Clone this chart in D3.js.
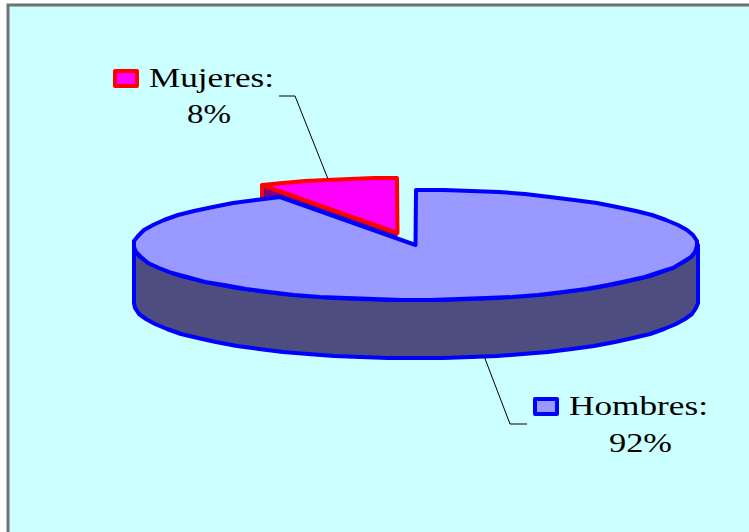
<!DOCTYPE html>
<html lang="en">
<head>
<meta charset="UTF-8">
<title>Hombres y Mujeres</title>
<script src="https://d3js.org/d3.v7.min.js"></script>
<style>
    html, body { margin: 0; padding: 0; background: #fff; }
    svg { display: block; }
    text { font-family: "Liberation Serif", serif; font-size: 28px; fill: #000; }
</style>
</head>
<body>
<svg width="749" height="532"></svg>
<script>
const categories = ["Hombres", "Mujeres"];
const values = [92, 8];
const pctLabels = ["92%", "8%"];
const fills = ["#9999ff", "#ff00ff"];
const sides = ["#4d4d80", "#800080"];
const strokes = ["#0000ff", "#ff0000"];

const svg = d3.select("svg");
svg.append("rect").attr("x", 8).attr("y", 5).attr("width", 760).attr("height", 540)
    .attr("fill", "#ccffff").attr("stroke", "#707070").attr("stroke-width", 3);

const cx = 415.5, cy = 245, rx = 282, ry = 55, depth = 58;
const explode = [[0, 0], [-18, -12]];

// no sort, so Hombres starts at 12 o'clock and runs clockwise
const arcs = d3.pie().sort(null)(values);

// rounded to whole pixels, the original outline is slightly stepped
function pt(a, i, dz) {
    return [Math.round(cx + explode[i][0] + rx * Math.sin(a)),
            Math.round(cy + explode[i][1] + dz - ry * Math.cos(a))];
}
function rimPts(a0, a1, i, dz) {
    const n = Math.max(2, Math.ceil((a1 - a0) / 0.1));
    return d3.range(n + 1).map(k => pt(a0 + (a1 - a0) * k / n, i, dz));
}
const line = d3.line().curve(d3.curveLinear);

function drawSlice(d, i) {
    const g = svg.append("g")
        .attr("stroke", strokes[i]).attr("stroke-width", 4).attr("stroke-linejoin", "round");
    const apex = [cx + explode[i][0], cy + explode[i][1]];
    const top = rimPts(d.startAngle, d.endAngle, i, 0);

    // side wall, only the part of the rim facing the viewer
    const a0 = Math.max(d.startAngle, Math.PI / 2);
    const a1 = Math.min(d.endAngle, Math.PI * 1.5);
    if (a1 > a0) {
        const upper = rimPts(a0, a1, i, 0);
        const lower = rimPts(a0, a1, i, depth).reverse();
        g.append("path").attr("d", line(upper.concat(lower)) + "Z").attr("fill", sides[i]);
    }
    // cut face behind the wedge
    if (i === 1) {
        const e = pt(d.startAngle, i, 0);
        g.append("path")
            .attr("d", line([e, [e[0], e[1] + depth], [apex[0], apex[1] + depth], apex]) + "Z")
            .attr("fill", sides[i]).attr("stroke", "none");
        g.append("path").attr("d", line([e, [e[0], e[1] + depth]])).attr("fill", "none");
    }
    g.append("path").attr("d", line([apex].concat(top)) + "Z").attr("fill", fills[i]);
}

// Mujeres sits behind, Hombres goes on top
drawSlice(arcs[1], 1);
drawSlice(arcs[0], 0);

const leaders = [
    [[484, 356], [510, 424], [527, 424]],
    [[328, 179], [295, 96], [279, 96]]
];
leaders.forEach(l => svg.append("path").attr("d", line(l))
    .attr("fill", "none").attr("stroke", "#000").attr("stroke-width", 1));

// the original text is stretched sideways, hence textLength
const labelPos = [
    { key: [535, 399], x: 569, y: 415, w: 139, cx: 640.5, y2: 452, w2: 63 },
    { key: [115, 71], x: 149, y: 87, w: 125, cx: 209, y2: 123, w2: 44 }
];
categories.forEach((c, i) => {
    const p = labelPos[i];
    svg.append("rect").attr("x", p.key[0]).attr("y", p.key[1]).attr("width", 22).attr("height", 15)
        .attr("fill", fills[i]).attr("stroke", strokes[i]).attr("stroke-width", 4).attr("stroke-linejoin", "round");
    svg.append("text").attr("x", p.x).attr("y", p.y)
        .attr("textLength", p.w).attr("lengthAdjust", "spacingAndGlyphs").text(c + ":");
    svg.append("text").attr("x", p.cx - p.w2 / 2).attr("y", p.y2)
        .attr("textLength", p.w2).attr("lengthAdjust", "spacingAndGlyphs").text(pctLabels[i]);
});
</script>
</body>
</html>
